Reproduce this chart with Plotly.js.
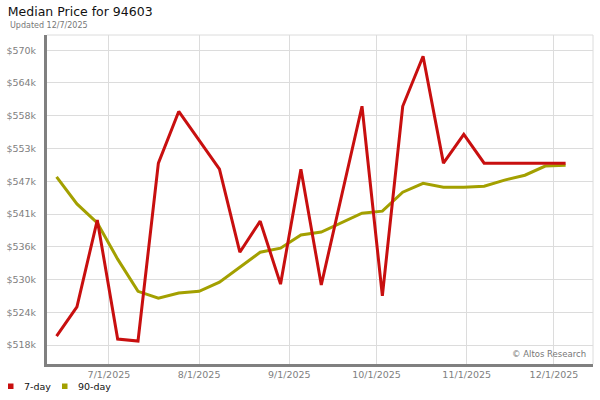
<!DOCTYPE html>
<html>
<head>
<meta charset="utf-8">
<script src="https://cdn.plot.ly/plotly-3.0.1.min.js"></script>
<style>
html,body{margin:0;padding:0;background:#fff;}
#chart{width:600px;height:400px;}
</style>
</head>
<body>
<div id="chart"></div>
<script>
const dates = ['2025-06-13','2025-06-20','2025-06-27','2025-07-04','2025-07-11','2025-07-18','2025-07-25',
  '2025-08-01','2025-08-08','2025-08-15','2025-08-22','2025-08-29','2025-09-05','2025-09-12','2025-09-19',
  '2025-09-26','2025-10-03','2025-10-10','2025-10-17','2025-10-24','2025-10-31','2025-11-07','2025-11-14',
  '2025-11-21','2025-11-28','2025-12-05'];
const price7 = [520000,525100,540200,519500,519150,550100,559100,554100,549050,534600,540000,529050,549050,
  528900,544500,560000,527000,560000,568700,550100,555100,550100,550100,550100,550100,550100];
const price90 = [547700,543000,539700,533400,527800,526600,527500,527800,529400,532000,534600,535300,537600,
  538100,539800,541400,541750,545050,546600,545900,545900,546100,547150,548000,549600,549750];
const tickVals = [518450,524150,529850,535550,541250,546950,552650,558350,564050,569750];
const tickLabels = ['$518k','$524k','$530k','$536k','$541k','$547k','$553k','$558k','$564k','$570k'];
const xTickVals = ['2025-07-01','2025-08-01','2025-09-01','2025-10-01','2025-11-01','2025-12-01'];
const xTickLabels = ['7/1/2025','8/1/2025','9/1/2025','10/1/2025','11/1/2025','12/1/2025'];
const seriesNames = ['7-day','90-day'];
const RED = '#c80f0f', OLIVE = '#a3a000';

const traces = [
  {x: dates, y: price90, name:seriesNames[1], mode:'lines', line:{color:OLIVE, width:3}, showlegend:false, hoverinfo:'skip'},
  {x: dates, y: price7, name:seriesNames[0], mode:'lines', line:{color:RED, width:3}, showlegend:false, hoverinfo:'skip'}
];

// legend (below the plot, in pixel-like container coordinates)
const W = 600, H = 400;
function cx(px){ return px / W; }
function cy(py){ return 1 - py / H; }
const legendItems = [
  {name:seriesNames[0], color:RED, sx:8},
  {name:seriesNames[1], color:OLIVE, sx:62}
];
const legendShapes = legendItems.map(it => ({
  type:'rect', xref:'paper', yref:'paper',
  x0:(it.sx - 47)/546, x1:(it.sx + 5.5 - 47)/546,
  y0:-(389 - 364)/329, y1:-(383.5 - 364)/329,
  fillcolor:it.color, line:{width:0}
}));
const legendAnnots = legendItems.map(it => ({
  text:it.name, xref:'paper', yref:'paper', x:(it.sx + 13.5 - 47)/546, y:-(386.5 - 364)/329,
  xanchor:'left', yanchor:'middle', showarrow:false, font:{size:9.5, color:'#111'}
}));

const layout = {
  width:W, height:H,
  margin:{l:47, r:7, t:35, b:36, autoexpand:false},
  paper_bgcolor:'#fff', plot_bgcolor:'#fff',
  font:{family:'DejaVu Sans', size:10, color:'#222'},
  title:{text:'Median Price for 94603', xref:'container', x:0.013, xanchor:'left', yref:'container', y:0.97, yanchor:'middle',
    pad:{t:0,b:0,l:0,r:0}, font:{family:'DejaVu Sans', size:12.5, color:'#111'}},
  xaxis:{type:'date', range:['2025-06-09 17:00','2025-12-14 10:00'], tickvals:xTickVals, ticktext:xTickLabels,
    showgrid:true, gridcolor:'#dcdcdc', gridwidth:1, zeroline:false, automargin:false,
    showline:true, linecolor:'#808080', linewidth:3, ticks:'', tickfont:{size:9.5, color:'#808080'}},
  yaxis:{range:[515150,572400], tickvals:tickVals, ticktext:tickLabels, automargin:false,
    showgrid:true, gridcolor:'#dcdcdc', gridwidth:1, zeroline:false,
    showline:true, linecolor:'#808080', linewidth:3, ticks:'', ticklabelstandoff:6, tickfont:{size:9.5, color:'#808080'}},
  showlegend:false,
  shapes:[
    {type:'line', xref:'paper', yref:'paper', x0:0, x1:1, y0:1, y1:1, line:{color:'#dcdcdc', width:1}},
    {type:'line', xref:'paper', yref:'paper', x0:1, x1:1, y0:0, y1:1, line:{color:'#dcdcdc', width:1}}
  ].concat(legendShapes),
  annotations:[
    {text:'Updated 12/7/2025', xref:'paper', yref:'paper', x:-0.0714, y:1.029, xanchor:'left', yanchor:'middle',
      showarrow:false, font:{size:8, color:'#777'}},
    {text:'© Altos Research', xref:'paper', yref:'paper', x:0.99, y:0.03, xanchor:'right', yanchor:'middle',
      showarrow:false, font:{size:8.5, color:'#777'}}
  ].concat(legendAnnots)
};
Plotly.newPlot('chart', traces, layout, {displayModeBar:false, staticPlot:true});
</script>
</body>
</html>
